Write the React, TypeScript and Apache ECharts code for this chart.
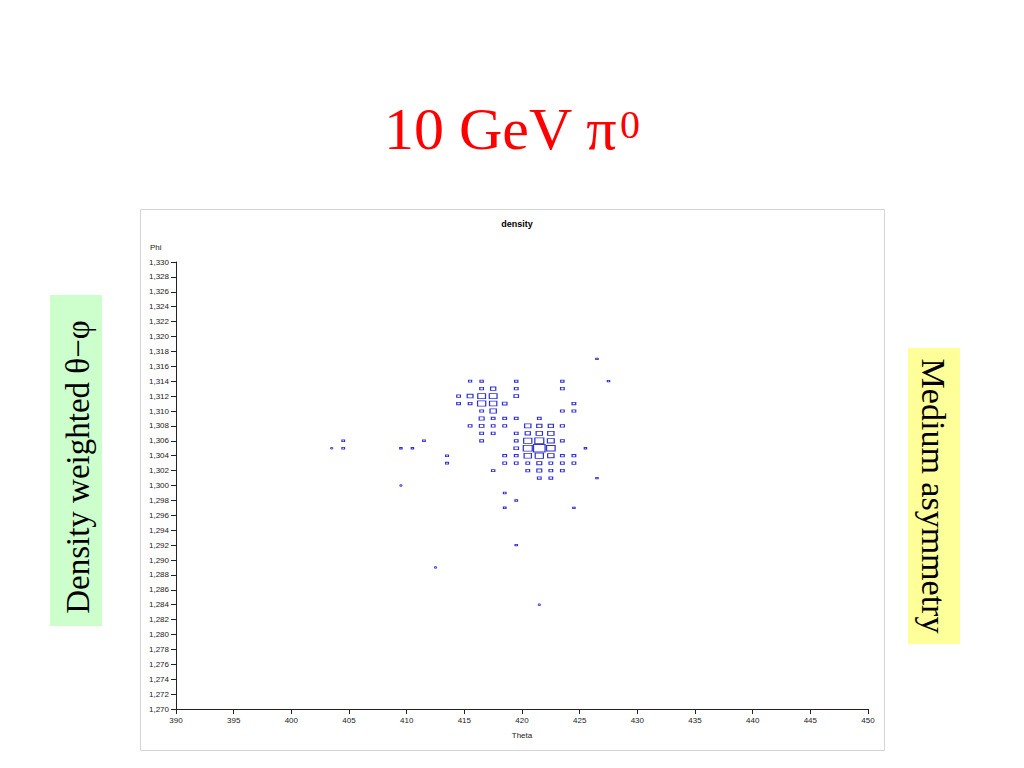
import React, { useEffect, useRef } from "react";
import * as echarts from "echarts";

// Theta bin centres, Phi bin centres and density weights of each cell
const thetaValues: number[] = [
  426.5,
  415.5, 416.5, 419.5, 423.5, 427.5,
  416.5, 417.5, 419.5, 423.5,
  414.5, 415.5, 416.5, 417.5, 419.5,
  414.5, 415.5, 416.5, 417.5, 418.5, 424.5,
  416.5, 417.5, 423.5, 424.5,
  416.5, 417.5, 418.5, 419.5, 421.5,
  415.5, 416.5, 417.5, 418.5, 420.5, 421.5, 422.5, 423.5,
  416.5, 417.5, 419.5, 420.5, 421.5, 422.5,
  404.5, 411.5, 416.5, 419.5, 420.5, 421.5, 422.5, 423.5,
  403.5, 404.5, 409.5, 410.5, 419.5, 420.5, 421.5, 422.5, 425.5,
  413.5, 418.5, 419.5, 420.5, 421.5, 422.5, 423.5, 424.5,
  413.5, 418.5, 419.5, 420.5, 421.5, 422.5, 423.5, 424.5,
  417.5, 420.5, 421.5, 422.5, 423.5,
  421.5, 422.5, 426.5,
  409.5,
  418.5,
  419.5,
  418.5, 424.5,
  419.5,
  412.5,
  421.5,
];
const phiValues: number[] = [
  1.317,
  1.314, 1.314, 1.314, 1.314, 1.314,
  1.313, 1.313, 1.313, 1.313,
  1.312, 1.312, 1.312, 1.312, 1.312,
  1.311, 1.311, 1.311, 1.311, 1.311, 1.311,
  1.31, 1.31, 1.31, 1.31,
  1.309, 1.309, 1.309, 1.309, 1.309,
  1.308, 1.308, 1.308, 1.308, 1.308, 1.308, 1.308, 1.308,
  1.307, 1.307, 1.307, 1.307, 1.307, 1.307,
  1.306, 1.306, 1.306, 1.306, 1.306, 1.306, 1.306, 1.306,
  1.305, 1.305, 1.305, 1.305, 1.305, 1.305, 1.305, 1.305, 1.305,
  1.304, 1.304, 1.304, 1.304, 1.304, 1.304, 1.304, 1.304,
  1.303, 1.303, 1.303, 1.303, 1.303, 1.303, 1.303, 1.303,
  1.302, 1.302, 1.302, 1.302, 1.302,
  1.301, 1.301, 1.301,
  1.3,
  1.299,
  1.298,
  1.297, 1.297,
  1.292,
  1.289,
  1.284,
];
const densityValues: number[] = [
  0.4,
  0.7, 0.8, 0.8, 0.8, 0.4,
  1, 2, 1, 1,
  1, 2.5, 4.5, 4.5, 1.5,
  1, 1, 5, 4, 1.5, 1,
  1, 3, 1, 1,
  1.8, 1, 1, 1, 1,
  1, 1.5, 1, 1, 3, 2, 2, 1.2,
  1, 1, 1, 2, 3, 3,
  0.5, 0.5, 1, 1, 5, 6, 3.5, 1,
  0.3, 0.5, 0.4, 0.4, 1.5, 6, 10, 5.5, 0.4,
  0.6, 1, 1, 4, 5, 3, 1, 1,
  0.6, 1, 1, 1, 1.8, 1, 1, 1,
  0.8, 1, 1.8, 1, 1,
  1, 1, 0.4,
  0.3,
  0.5,
  0.5,
  0.5, 0.4,
  0.4,
  0.2,
  0.2,
];
const thetaTicks = { min: 390, max: 450, interval: 5 };
const phiTicks = { min: 1.27, max: 1.33, interval: 0.002 };
const maxDensity = 10;

const GRID = { left: 176, top: 262, width: 692, height: 447 };

export default function App() {
  const ref = useRef<HTMLDivElement>(null);
  useEffect(() => {
    if (!ref.current) return;
    const chart = echarts.init(ref.current, null, { renderer: "svg" });
    const binW = GRID.width / (thetaTicks.max - thetaTicks.min); // px per 1 theta
    const binH = GRID.height / ((phiTicks.max - phiTicks.min) / 0.001); // px per 0.001 phi
    const data = thetaValues.map((t, i) => [t, phiValues[i], densityValues[i]]);
    const serif = "'Liberation Serif', 'Times New Roman', serif";
    const sans = "'Liberation Sans', Arial, sans-serif";
    chart.setOption({
      animation: false,
      backgroundColor: "#ffffff",
      title: {
        text: "density",
        left: 512,
        top: 214,
        textAlign: "center",
        textStyle: { fontFamily: sans, fontSize: 9, fontWeight: "bold", color: "#000" },
      },
      grid: { left: GRID.left, top: GRID.top, width: GRID.width, height: GRID.height },
      xAxis: {
        type: "value",
        min: thetaTicks.min,
        max: thetaTicks.max,
        interval: thetaTicks.interval,
        name: "Theta",
        nameLocation: "middle",
        nameGap: 22,
        nameTextStyle: { fontFamily: sans, fontSize: 8, color: "#222" },
        axisLine: { lineStyle: { color: "#222", width: 1 } },
        axisTick: { show: true, length: 5, lineStyle: { color: "#222" } },
        axisLabel: { fontFamily: sans, fontSize: 8, color: "#222", margin: 7 },
        splitLine: { show: false },
      },
      yAxis: {
        type: "value",
        min: phiTicks.min,
        max: phiTicks.max,
        interval: phiTicks.interval,
        axisLine: { show: true, lineStyle: { color: "#222", width: 1 } },
        axisTick: { show: true, length: 5, lineStyle: { color: "#222" } },
        axisLabel: {
          fontFamily: sans,
          fontSize: 8,
          color: "#222",
          margin: 7,
          formatter: (v: number) => v.toFixed(3).replace(".", ","),
        },
        splitLine: { show: false },
      },
      series: [
        {
          type: "scatter",
          data,
          symbol: "rect",
          symbolSize: (val: number[]) => {
            const f = Math.sqrt(val[2] / maxDensity);
            return [Math.max(2, binW * f), Math.max(1.5, binH * f)];
          },
          itemStyle: { color: "#ffffff", borderColor: "#3030d8", borderWidth: 1, opacity: 1 },
          emphasis: { disabled: true },
        },
      ],
      graphic: [
        {
          type: "rect",
          shape: { x: 140.5, y: 209.5, width: 744, height: 541 },
          style: { fill: "none", stroke: "#d4d4d4", lineWidth: 1 },
          z: -10,
        },
        {
          type: "text",
          x: 150,
          y: 247,
          style: { text: "Phi", fontFamily: sans, fontSize: 8, fill: "#222", verticalAlign: "middle" },
        },
        {
          type: "text",
          x: 384,
          y: 99,
          style: { text: "10 GeV π", fontFamily: serif, fontSize: 60, fill: "#ff0000", verticalAlign: "top" },
        },
        {
          type: "text",
          x: 620,
          y: 104,
          style: { text: "0", fontFamily: serif, fontSize: 40, fill: "#ff0000", verticalAlign: "top" },
        },
        {
          type: "rect",
          shape: { x: 50, y: 295, width: 52, height: 331 },
          style: { fill: "#ccffcc" },
        },
        {
          type: "text",
          x: 78,
          y: 467,
          rotation: Math.PI / 2,
          style: {
            text: "Density weighted θ−φ",
            fontFamily: serif,
            fontSize: 33,
            fill: "#000",
            align: "center",
            verticalAlign: "middle",
          },
        },
        {
          type: "rect",
          shape: { x: 908, y: 348, width: 52, height: 296 },
          style: { fill: "#ffff99" },
        },
        {
          type: "text",
          x: 933,
          y: 496,
          rotation: -Math.PI / 2,
          style: {
            text: "Medium asymmetry",
            fontFamily: serif,
            fontSize: 34,
            fill: "#000",
            align: "center",
            verticalAlign: "middle",
          },
        },
      ],
    });
    return () => chart.dispose();
  }, []);
  return (
    <div
      ref={ref}
      style={{ position: "fixed", left: 0, top: 0, width: 1024, height: 768, background: "#fff" }}
    />
  );
}
